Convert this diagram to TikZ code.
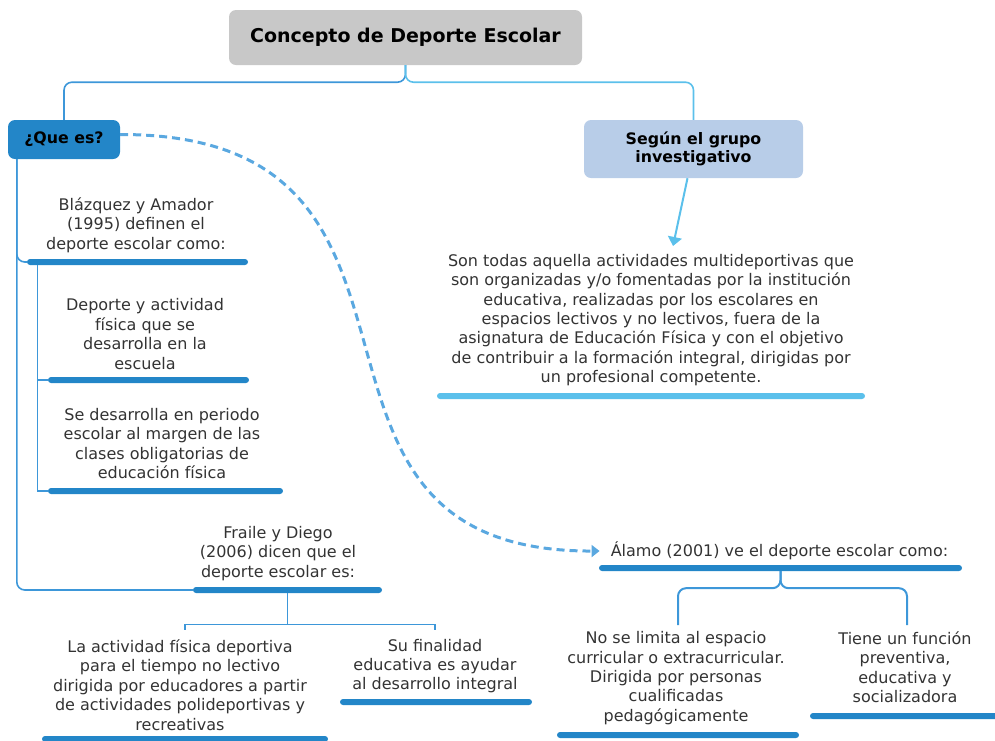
\documentclass[tikz,border=0pt]{standalone}
\usepackage{fontspec}
\setmainfont{DejaVu Sans}
\usepackage{tikz}
\usetikzlibrary{positioning,calc,arrows.meta}
\definecolor{boxgray}{HTML}{C8C8C8}
\definecolor{qblue}{HTML}{2386C8}
\definecolor{lblue}{HTML}{5BC0EB}
\definecolor{sblue}{HTML}{B8CDE8}
\definecolor{lnblue}{HTML}{3D97D9}
\definecolor{dashblue}{HTML}{5AA8E0}
\definecolor{txt}{HTML}{333333}

\begin{document}
\begin{tikzpicture}[x=1pt, y=-1pt,
    txtnode/.style={align=center, text=txt, inner sep=0pt, font=\fontsize{16}{19.4}\selectfont},
    topic/.style={align=center, text=black, rounded corners=7pt, inner sep=0pt, font=\bfseries\fontsize{15.8}{18.5}\selectfont},
    bar/.style={fill=qblue, rounded corners=3pt, minimum height=6pt, inner sep=0pt, minimum width=#1},
    lbar/.style={bar=#1, fill=lblue},
    lnk/.style={draw=lnblue, line width=1.6pt}]
    \clip (0,0) rectangle (995,740);

    % Title and main topics
    \node[topic, fill=boxgray, minimum width=353, minimum height=55, font=\bfseries\fontsize{19}{22}\selectfont] (title) at (405.5,37.5) {Concepto de Deporte Escolar};
    \node[topic, fill=qblue, minimum width=112, minimum height=39] (que) at (64,139.5) {¿Que es?};
    \node[topic, fill=sblue, minimum width=219, minimum height=58] (seg) at (693.5,149) {Según el grupo\\investigativo};
    \draw[lnk, rounded corners=8] (title.south) -- ++(0,17) -| (que.north);
    \draw[lnk, draw=lblue, rounded corners=8] (title.south) -- ++(0,17) -| (seg.north);

    % Segun el grupo investigativo
    \node[txtnode] (son) at (651,320) {Son todas aquella actividades multideportivas que\\son organizadas y/o fomentadas por la institución\\educativa, realizadas por los escolares en\\espacios lectivos y no lectivos, fuera de la\\asignatura de Educación Física y con el objetivo\\de contribuir a la formación integral, dirigidas por\\un profesional competente.};
    \node[lbar=428] (bson) at (651,396) {};
    \coordinate (sa) at (673,246);
    \draw[lblue, line width=2pt, -{Triangle[width=14pt,length=9pt]}] ([xshift=-6pt]seg.south) -- (sa);

    % Blazquez y Amador
    \node[txtnode] (blaz) at (136,225) {Blázquez y Amador\\(1995) definen el\\deporte escolar como:};
    \node[bar=221] (bblaz) at (137.5,262) {};
    \node[txtnode] (dep) at (145,334) {Deporte y actividad\\física que se\\desarrolla en la\\escuela};
    \node[bar=201] (bdep) at (148.5,380) {};
    \node[txtnode] (sed) at (162,443.5) {Se desarrolla en periodo\\escolar al margen de las\\clases obligatorias de\\educación física};
    \node[bar=235] (bsed) at (165.5,491) {};
    \draw[lnk, rounded corners=8] ([xshift=9pt]que.south west) |- (bblaz.west);
    \draw[lnk, line width=1.3pt] ([xshift=11pt]bblaz.south west) |- (bdep.west);
    \draw[lnk, line width=1.3pt] ([xshift=11pt]bblaz.south west) |- (bsed.west);

    % Fraile y Diego
    \node[txtnode] (fra) at (278,553.5) {Fraile y Diego\\(2006) dicen que el\\deporte escolar es:};
    \node[bar=189] (bfra) at (287.5,590) {};
    \draw[lnk, rounded corners=8] ([xshift=9pt]que.south west) |- (bfra.west);
    \node[txtnode] (lact) at (180,685) {La actividad física deportiva\\para el tiempo no lectivo\\dirigida por educadores a partir\\de actividades polideportivas y\\recreativas};
    \node[bar=286] (blact) at (185,739) {};
    \node[txtnode] (suf) at (435,666) {Su finalidad\\educativa es ayudar\\al desarrollo integral};
    \node[bar=192] (bsuf) at (436,702) {};
    \coordinate (t1) at (185,630);
    \coordinate (t2) at (435,630);
    \draw[lnk, line width=1.2pt] (bfra.south) -- ++(0,31) -| (t1);
    \draw[lnk, line width=1.2pt] (bfra.south) -- ++(0,31) -| (t2);

    % Alamo
    \node[txtnode] (ala) at (779.5,551) {Álamo (2001) ve el deporte escolar como:};
    \node[bar=363] (bala) at (780.5,568) {};
    \node[txtnode] (nos) at (676,678) {No se limita al espacio\\curricular o extracurricular.\\Dirigida por personas\\cualificadas\\pedagógicamente};
    \node[bar=242] (bnos) at (678,735) {};
    \node[txtnode] (tie) at (905,667) {Tiene un función\\preventiva,\\educativa y\\socializadora};
    \node[bar=190] (btie) at (905,716) {};
    \coordinate (t3) at (678,625);
    \coordinate (t4) at (907,625);
    \draw[lnk, line width=2pt, rounded corners=8] (bala.south) -- ++(0,17) -| (t3);
    \draw[lnk, line width=2pt, rounded corners=8] (bala.south) -- ++(0,17) -| (t4);

    % Dashed link
    \draw[dashblue, line width=3pt, dash pattern=on 8pt off 5pt, -{Triangle[width=12pt,length=8pt]}] ([yshift=5pt]que.east) .. controls (486,134) and (248,552) .. ([xshift=-11pt]ala.west);
\end{tikzpicture}
\end{document}
